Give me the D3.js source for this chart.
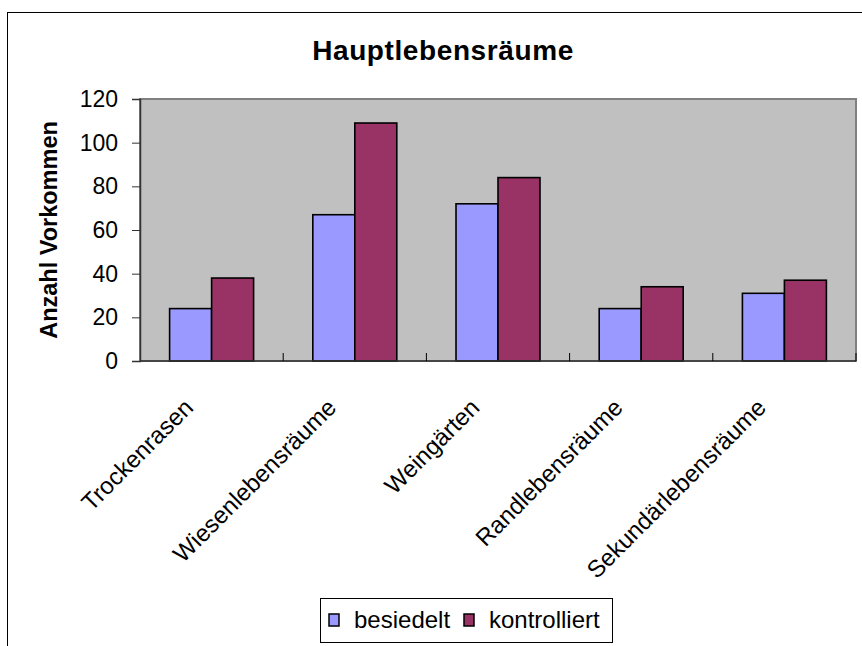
<!DOCTYPE html>
<html>
<head>
<meta charset="utf-8">
<script src="https://cdn.jsdelivr.net/npm/d3@7/dist/d3.min.js"></script>
<style>
  body { margin: 0; background: #fff; }
  text { font-family: Arial, "Liberation Sans", sans-serif; fill: #000; }
</style>
</head>
<body>
<div id="chart"></div>
<script>
var categories = ["Trockenrasen", "Wiesenlebensräume", "Weingärten", "Randlebensräume", "Sekundärlebensräume"];
var seriesNames = ["besiedelt", "kontrolliert"];
var besiedelt = [24, 67, 72, 24, 31];
var kontrolliert = [38, 109, 84, 34, 37];
var yTicks = [0, 20, 40, 60, 80, 100, 120];
var colors = ["#9999ff", "#993366"];

var width = 862, height = 646;
var plot = {left: 140, right: 856, top: 99, bottom: 361};

var svg = d3.select("#chart").append("svg")
  .attr("width", width)
  .attr("height", height);

/* outer chart frame */
svg.append("rect")
  .attr("x", 7.5).attr("y", 12.5)
  .attr("width", 900).attr("height", 700)
  .attr("fill", "#fff")
  .attr("stroke", "#000")
  .attr("stroke-width", 1);

/* title */
svg.append("text")
  .attr("x", 443).attr("y", 60)
  .attr("text-anchor", "middle")
  .style("font-size", "28px")
  .style("font-weight", "bold")
  .style("letter-spacing", "0.6px")
  .text("Hauptlebensräume");

/* scales */
var x = d3.scaleBand()
  .domain(categories)
  .range([plot.left, plot.right])
  .padding(0);

var x1 = d3.scaleBand()
  .domain(seriesNames)
  .range([0, x.bandwidth()])
  .paddingInner(0)
  .paddingOuter(0.705);

var y = d3.scaleLinear()
  .domain([0, 120])
  .range([plot.bottom, plot.top]);

/* plot area */
svg.append("rect")
  .attr("x", plot.left).attr("y", plot.top)
  .attr("width", plot.right - plot.left)
  .attr("height", plot.bottom - plot.top)
  .attr("fill", "#c0c0c0")
  .attr("stroke", "#808080")
  .attr("stroke-width", 2);

/* bars */
var rows = categories.map(function(c, i) {
  return {cat: c, values: [
    {name: seriesNames[0], value: besiedelt[i]},
    {name: seriesNames[1], value: kontrolliert[i]}
  ]};
});

svg.append("g").selectAll("g")
  .data(rows).enter()
  .append("g")
  .attr("transform", d => `translate(${x(d.cat)},0)`)
  .selectAll("rect")
  .data(d => d.values).enter()
  .append("rect")
  .attr("x", d => x1(d.name))
  .attr("y", d => y(d.value))
  .attr("width", x1.bandwidth())
  .attr("height", d => y(0) - y(d.value))
  .attr("fill", (d, i) => colors[i])
  .attr("stroke", "#000")
  .attr("stroke-width", 1.6);

/* y axis */
var yAxis = d3.axisLeft(y).tickValues(yTicks).tickSize(8).tickPadding(14);
var gy = svg.append("g")
  .attr("transform", `translate(${plot.left},0)`)
  .call(yAxis);
gy.select(".domain").attr("stroke", "#333").attr("stroke-width", 1.5);
gy.selectAll(".tick line").attr("stroke", "#333");
gy.selectAll(".tick text")
  .attr("fill", "#000")
  .style("font-size", "23px")
  .style("font-family", "Arial, 'Liberation Sans', sans-serif");

/* x axis */
var gx = svg.append("g")
  .attr("transform", `translate(0,${plot.bottom})`);
gx.append("line")
  .attr("x1", plot.left).attr("x2", plot.right)
  .attr("stroke", "#333").attr("stroke-width", 1.5);
gx.selectAll(".sep")
  .data(categories).enter()
  .append("line")
  .attr("class", "sep")
  .attr("x1", d => x(d) + x.bandwidth())
  .attr("x2", d => x(d) + x.bandwidth())
  .attr("y1", 0).attr("y2", -8)
  .attr("stroke", "#000");
gx.selectAll(".lbl")
  .data(categories).enter()
  .append("text")
  .attr("class", "lbl")
  .attr("text-anchor", "end")
  .attr("transform", d => `translate(${x(d) + x.bandwidth() / 2 - 17},48) rotate(-45)`)
  .style("font-size", "24px")
  .text(d => d);

/* y axis title */
svg.append("text")
  .attr("transform", `translate(57,${(plot.top + plot.bottom) / 2}) rotate(-90)`)
  .attr("text-anchor", "middle")
  .style("font-size", "23.5px")
  .style("font-weight", "bold")
  .text("Anzahl Vorkommen");

/* legend */
var legend = svg.append("g").attr("transform", "translate(320,598)");
legend.append("rect")
  .attr("x", 0.5).attr("y", 0.5)
  .attr("width", 292).attr("height", 44)
  .attr("fill", "#fff")
  .attr("stroke", "#000");
var legX = [9, 144];
seriesNames.forEach(function(name, i) {
  legend.append("rect")
    .attr("x", legX[i]).attr("y", 16)
    .attr("width", 10).attr("height", 12)
    .attr("fill", colors[i])
    .attr("stroke", "#000")
    .attr("stroke-width", 1.5);
  legend.append("text")
    .attr("x", legX[i] + 25).attr("y", 30)
    .style("font-size", "24px")
    .text(name);
});
</script>
</body>
</html>
